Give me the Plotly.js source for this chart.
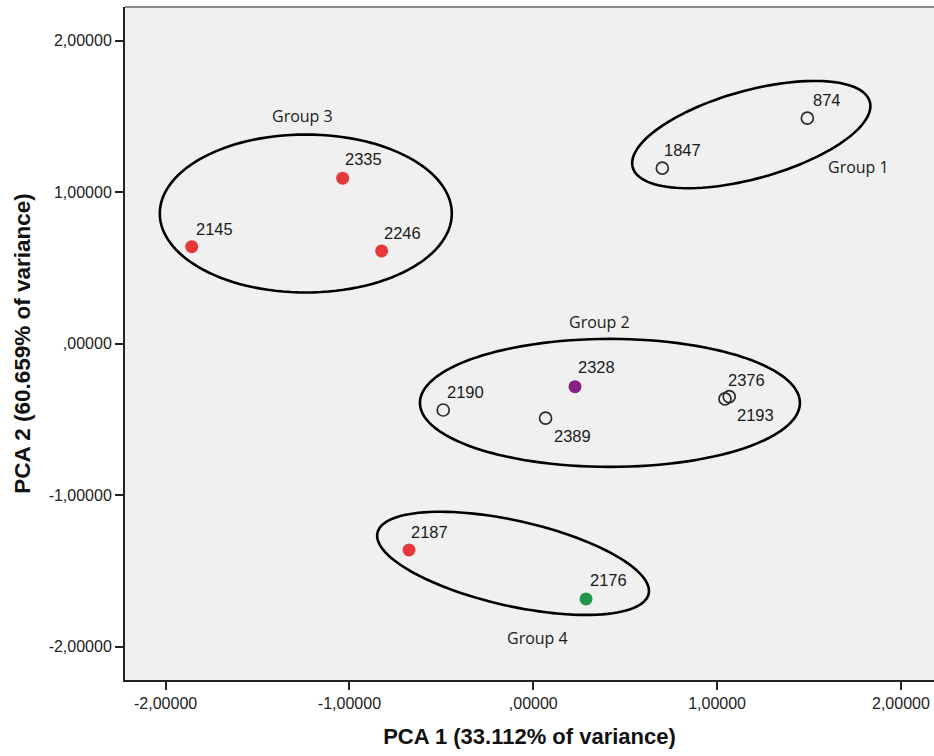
<!DOCTYPE html>
<html>
<head>
<meta charset="utf-8">
<script src="https://cdn.plot.ly/plotly-3.0.1.min.js"></script>
<style>html,body{margin:0;padding:0;background:#fff;}#chart{width:934px;height:756px;}</style>
</head>
<body>
<div id="chart"></div>
<script>
// ---- data ----
const sampleIds = ['874','1847','2335','2145','2246','2328','2190','2389','2376','2193','2187','2176'];
const pca1 = [1.491, 0.702, -1.037, -1.858, -0.825, 0.227, -0.490, 0.067, 1.066, 1.043, -0.676, 0.287];
const pca2 = [1.488, 1.158, 1.092, 0.640, 0.612, -0.284, -0.438, -0.492, -0.350, -0.365, -1.362, -1.685];
const sampleClass = ['open','open','red','red','red','purple','open','open','open','open','red','green'];

const groupNames = ['Group 1','Group 2','Group 3','Group 4'];
const groupCx = [1.186, 0.417, -1.2375, -0.110];
const groupCy = [1.380, -0.391, 0.859, -1.450];
const xTickVals = [-2, -1, 0, 1, 2];
const xTickText = ['-2,00000','-1,00000',',00000','1,00000','2,00000'];
const yTickVals = [-2, -1, 0, 1, 2];
const yTickText = ['-2,00000','-1,00000',',00000','1,00000','2,00000'];

// ---- styles / geometry ----
const classColor = {red:'#e5383b', purple:'#862085', green:'#23954a'};
const labelShift = [[4,18],[0,18],[0,19],[2,18],[0,18],[1,20],[2,18],[6,-18],[-3,17],[10,-16],[0,18],[2,19]];
const ellA = [123, 190, 146, 139];   // semi-axes in px
const ellB = [44, 64, 79, 42.6];
const ellAng = [15.5, 0, 0, -12.7];  // degrees (screen, counter-clockwise)
const groupLabelPos = [[1.771,1.168],[0.360,0.145],[-1.258,1.502],[0.023,-1.945]];

const W = 934, H = 756;
const M = {l:125, r:0, t:7, b:76};
const xRange = [-2.221, 2.180];
const yRange = [-2.22, 2.222];
const pxX = (W - M.l - M.r) / (xRange[1] - xRange[0]);
const pxY = (H - M.t - M.b) / (yRange[1] - yRange[0]);

function ellipsePath(cx, cy, a, b, angDeg) {
  const th = angDeg * Math.PI / 180;
  let d = '';
  const n = 120;
  for (let i = 0; i <= n; i++) {
    const t = 2 * Math.PI * i / n;
    const ex = a * Math.cos(t), ey = b * Math.sin(t);
    const rx = ex * Math.cos(th) - ey * Math.sin(th);
    const ry = ex * Math.sin(th) + ey * Math.cos(th);
    const x = cx + rx / pxX, y = cy + ry / pxY;
    d += (i === 0 ? 'M' : 'L') + x.toFixed(5) + ',' + y.toFixed(5);
  }
  return d + 'Z';
}

const traces = [];
// open circles
const openIdx = sampleClass.map((c,i)=>c==='open'?i:-1).filter(i=>i>=0);
traces.push({
  type:'scatter', mode:'markers',
  x: openIdx.map(i=>pca1[i]), y: openIdx.map(i=>pca2[i]),
  marker:{symbol:'circle-open', size:12, color:'#2a2a2a', line:{width:1.7, color:'#2a2a2a'}},
  hoverinfo:'skip', showlegend:false
});
['red','purple','green'].forEach(cls=>{
  const idx = sampleClass.map((c,i)=>c===cls?i:-1).filter(i=>i>=0);
  traces.push({
    type:'scatter', mode:'markers',
    x: idx.map(i=>pca1[i]), y: idx.map(i=>pca2[i]),
    marker:{symbol:'circle', size:13, color:classColor[cls], line:{width:0}},
    hoverinfo:'skip', showlegend:false
  });
});

const annotations = sampleIds.map((s,i)=>({
  x: pca1[i], y: pca2[i], xref:'x', yref:'y', text: s, showarrow:false,
  xanchor:'left', yanchor:'middle', xshift: labelShift[i][0], yshift: labelShift[i][1],
  font:{family:'Liberation Sans, Arial, sans-serif', size:16.5, color:'#1a1a1a'}
}));
groupNames.forEach((g,i)=>{
  annotations.push({
    x: groupLabelPos[i][0], y: groupLabelPos[i][1], xref:'x', yref:'y', text:g, showarrow:false,
    xanchor:'center', yanchor:'middle',
    font:{family:'Open Sans, sans-serif', size:16, color:'#1a1a1a'}
  });
});

const shapes = groupNames.map((g,i)=>({
  type:'path', xref:'x', yref:'y',
  path: ellipsePath(groupCx[i], groupCy[i], ellA[i], ellB[i], ellAng[i]),
  line:{color:'#000', width:2.6}, fillcolor:'rgba(0,0,0,0)', layer:'below'
}));
shapes.push({type:'line', xref:'paper', yref:'paper', x0:0, x1:1, y0:1, y1:1, line:{color:'#8a8a8a', width:2}});

const axisCommon = {
  showgrid:false, zeroline:false, showline:true, linecolor:'#222', linewidth:2,
  ticks:'outside', ticklen:8, tickwidth:2, tickcolor:'#222',
  tickfont:{family:'Liberation Sans, Arial, sans-serif', size:16, color:'#222'}
};

const layout = {
  width:W, height:H, margin:M,
  paper_bgcolor:'#ffffff', plot_bgcolor:'#f0f0f0',
  showlegend:false,
  xaxis: Object.assign({}, axisCommon, {
    range:xRange, tickvals:xTickVals, ticktext:xTickText,
    title:{text:'PCA 1 (33.112% of variance)', standoff:17,
      font:{family:'Liberation Sans, Arial, sans-serif', size:22, color:'#111', weight:'bold'}}
  }),
  yaxis: Object.assign({}, axisCommon, {
    range:yRange, tickvals:yTickVals, ticktext:yTickText,
    title:{text:'PCA 2 (60.659% of variance)', standoff:12,
      font:{family:'Liberation Sans, Arial, sans-serif', size:22.5, color:'#111', weight:'bold'}}
  }),
  annotations: annotations,
  shapes: shapes
};

Plotly.newPlot('chart', traces, layout, {displayModeBar:false, staticPlot:true});
</script>
</body>
</html>
